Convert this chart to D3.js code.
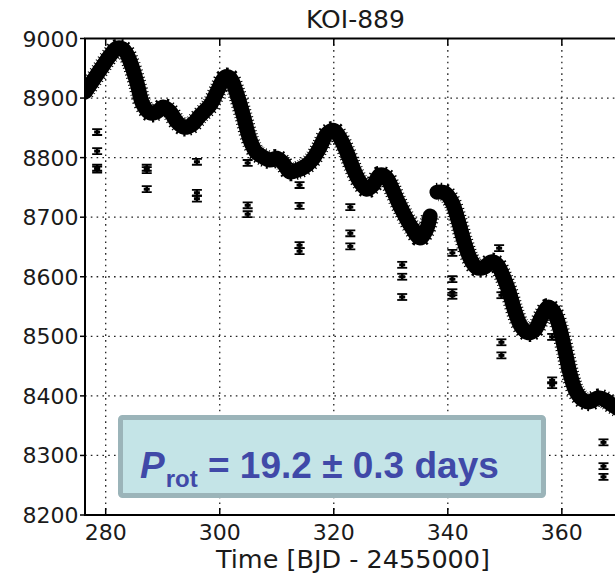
<!DOCTYPE html>
<html>
<head>
<meta charset="utf-8">
<script src="https://cdn.jsdelivr.net/npm/d3@7"></script>
<style>
  html, body { margin: 0; padding: 0; background: #fff; }
  svg { display: block; }
</style>
</head>
<body>
<svg id="chart" width="615" height="575"></svg>
<script>
// ---- data ----
const chartTitle = "KOI-889";
const xLabel = "Time [BJD - 2455000]";
const xTicks = [280, 300, 320, 340, 360];
const yTicks = [8200, 8300, 8400, 8500, 8600, 8700, 8800, 8900, 9000];

// light curve, first segment (time, flux)
const curve1Time = [276.4, 279.0, 280.8, 282.0, 283.2, 284.3, 285.5, 286.5, 287.8, 289.0, 290.1, 291.3, 292.5, 293.7, 295.1, 296.5, 298.3, 299.7, 300.9, 301.8, 302.9, 304.1, 305.3, 306.4, 307.6, 308.8, 310.0, 311.1, 312.3, 313.6, 314.8, 316.2, 317.6, 318.8, 320.0, 321.1, 322.3, 323.4, 324.6, 325.8, 326.9, 328.1, 329.2, 330.2, 331.3, 332.5, 333.7, 335.1, 336.2, 336.9];
const curve1Flux = [8910, 8947, 8972, 8984, 8981, 8961, 8925, 8890, 8875, 8877, 8885, 8877, 8860, 8851, 8855, 8870, 8888, 8914, 8935, 8934, 8910, 8872, 8830, 8809, 8801, 8796, 8799, 8791, 8776, 8779, 8784, 8796, 8818, 8840, 8846, 8833, 8809, 8782, 8759, 8747, 8754, 8771, 8767, 8749, 8725, 8702, 8682, 8665, 8678, 8702];
// light curve, second segment
const curve2Time = [338.1, 339.5, 340.8, 341.8, 342.9, 343.9, 345.1, 346.4, 347.6, 348.6, 349.7, 350.8, 351.8, 352.9, 354.1, 355.3, 356.5, 357.6, 358.6, 359.7, 360.6, 361.5, 362.5, 363.7, 364.9, 366.4, 367.6, 368.8, 370.2, 371.5];
const curve2Flux = [8742, 8741, 8724, 8695, 8658, 8631, 8615, 8616, 8625, 8621, 8601, 8573, 8541, 8516, 8506, 8511, 8534, 8549, 8541, 8511, 8474, 8435, 8407, 8393, 8390, 8397, 8393, 8385, 8377, 8372];

// isolated outlier points with error bars
const outTime = [278.5, 278.5, 278.5, 278.5, 287.2, 287.2, 287.2, 296.0, 296.0, 296.0, 304.9, 304.9, 304.9, 314.0, 314.0, 314.0, 314.0, 322.9, 322.9, 322.9, 332.0, 332.0, 332.0, 340.8, 340.8, 340.8, 340.8, 349.0, 349.4, 349.4, 349.4, 358.3, 358.3, 358.3, 367.3, 367.3, 367.3];
const outFlux = [8843, 8811, 8783, 8780, 8783, 8779, 8747, 8793, 8741, 8731, 8791, 8720, 8705, 8754, 8719, 8653, 8643, 8717, 8673, 8651, 8620, 8600, 8566, 8640, 8596, 8574, 8568, 8648, 8569, 8490, 8468, 8499, 8426, 8418, 8322, 8282, 8264];
const outErr = 5;

const annotation = { sym: "P", sub: "rot", rest: " = 19.2 ± 0.3 days" };

// ---- layout ----
const svg = d3.select("#chart");
const L = 85, T = 38.5, R = 624, B = 515;
const x = d3.scaleLinear().domain([276.37, 370.9]).range([L, R]);
const y = d3.scaleLinear().domain([8200, 9000]).range([B, T]);
const axisFont = "'DejaVu Sans', Verdana, sans-serif";
const ink = "#1a1a1a";

svg.append("defs").append("clipPath").attr("id", "clip")
  .append("rect").attr("x", L).attr("y", T).attr("width", R - L).attr("height", B - T);

// grid
const grid = svg.append("g");
grid.selectAll("line.vg").data(xTicks).join("line")
  .attr("x1", d => x(d)).attr("x2", d => x(d)).attr("y1", T).attr("y2", B)
  .attr("stroke", "#222").attr("stroke-width", 1.3).attr("stroke-dasharray", "1.6,4.2");
grid.selectAll("line.hg").data(yTicks.filter(d => d > 8200 && d < 9000)).join("line")
  .attr("x1", L).attr("x2", R).attr("y1", d => y(d)).attr("y2", d => y(d))
  .attr("stroke", "#222").attr("stroke-width", 1.3).attr("stroke-dasharray", "1.6,4.2");

// data
const plot = svg.append("g").attr("clip-path", "url(#clip)");
const line = d3.line().x(d => x(d[0])).y(d => y(d[1])).curve(d3.curveCatmullRom.alpha(0.5));
const segs = [d3.zip(curve1Time, curve1Flux), d3.zip(curve2Time, curve2Flux)];
plot.selectAll("path.band").data(segs).join("path")
  .attr("d", line).attr("fill", "none").attr("stroke", "#000")
  .attr("stroke-width", 15).attr("stroke-linecap", "round").attr("stroke-linejoin", "round");
plot.selectAll("path.fringe").data(segs).join("path")
  .attr("d", line).attr("fill", "none").attr("stroke", "#000")
  .attr("stroke-width", 18.5).attr("stroke-dasharray", "1,2.6");

const outs = d3.zip(outTime, outFlux);
const eb = plot.selectAll("g.eb").data(outs).join("g")
  .attr("transform", d => `translate(${x(d[0])},${y(d[1])})`);
eb.append("line").attr("x1", 0).attr("x2", 0)
  .attr("y1", d => y(d[1] + outErr) - y(d[1])).attr("y2", d => y(d[1] - outErr) - y(d[1]))
  .attr("stroke", "#000").attr("stroke-width", 2.5);
eb.append("line").attr("x1", -5).attr("x2", 5)
  .attr("y1", d => y(d[1] + outErr) - y(d[1])).attr("y2", d => y(d[1] + outErr) - y(d[1]))
  .attr("stroke", "#000").attr("stroke-width", 1.8);
eb.append("line").attr("x1", -5).attr("x2", 5)
  .attr("y1", d => y(d[1] - outErr) - y(d[1])).attr("y2", d => y(d[1] - outErr) - y(d[1]))
  .attr("stroke", "#000").attr("stroke-width", 1.8);
eb.append("rect").attr("x", -3).attr("y", -1.5).attr("width", 6).attr("height", 3).attr("fill", "#000");

// spines
svg.append("rect").attr("x", L).attr("y", T).attr("width", R - L).attr("height", B - T)
  .attr("fill", "none").attr("stroke", "#000").attr("stroke-width", 2);

// ticks
const tk = svg.append("g").attr("stroke", "#000").attr("stroke-width", 1.5);
tk.selectAll("line.xb").data(xTicks).join("line")
  .attr("x1", d => x(d)).attr("x2", d => x(d)).attr("y1", B).attr("y2", B - 7);
tk.selectAll("line.xt").data(xTicks).join("line")
  .attr("x1", d => x(d)).attr("x2", d => x(d)).attr("y1", T).attr("y2", T + 7);
tk.selectAll("line.yl").data(yTicks).join("line")
  .attr("x1", L - 5).attr("x2", L).attr("y1", d => y(d)).attr("y2", d => y(d));

// tick labels
svg.append("g").selectAll("text").data(xTicks).join("text")
  .attr("x", d => x(d)).attr("y", 540).attr("text-anchor", "middle")
  .attr("font-family", axisFont).attr("font-size", 22).attr("fill", ink)
  .text(d => d);
svg.append("g").selectAll("text").data(yTicks).join("text")
  .attr("x", 78.5).attr("y", d => y(d) + 8).attr("text-anchor", "end")
  .attr("font-family", axisFont).attr("font-size", 22).attr("fill", ink)
  .text(d => d);

// title and axis label
svg.append("text").attr("x", 355.5).attr("y", 28).attr("text-anchor", "middle")
  .attr("font-family", axisFont).attr("font-size", 25).attr("fill", ink).text(chartTitle);
svg.append("text").attr("x", 353).attr("y", 568).attr("text-anchor", "middle")
  .attr("font-family", axisFont).attr("font-size", 25.5).attr("fill", ink).text(xLabel);

// annotation box
svg.append("rect").attr("x", 120.5).attr("y", 417.5).attr("width", 423).attr("height", 78)
  .attr("rx", 2).attr("fill", "#c4e4e7").attr("stroke", "#9bb4b9").attr("stroke-width", 5);
const ann = svg.append("text").attr("x", 140).attr("y", 478)
  .attr("font-family", "'Liberation Sans', Arial, sans-serif").attr("font-weight", "bold")
  .attr("font-size", 37).attr("fill", "#4049a8");
ann.append("tspan").attr("font-style", "italic").text(annotation.sym);
ann.append("tspan").attr("font-size", 24).attr("dy", 9).attr("dx", 1).text(annotation.sub);
ann.append("tspan").attr("dy", -9).text(annotation.rest);
</script>
</body>
</html>
